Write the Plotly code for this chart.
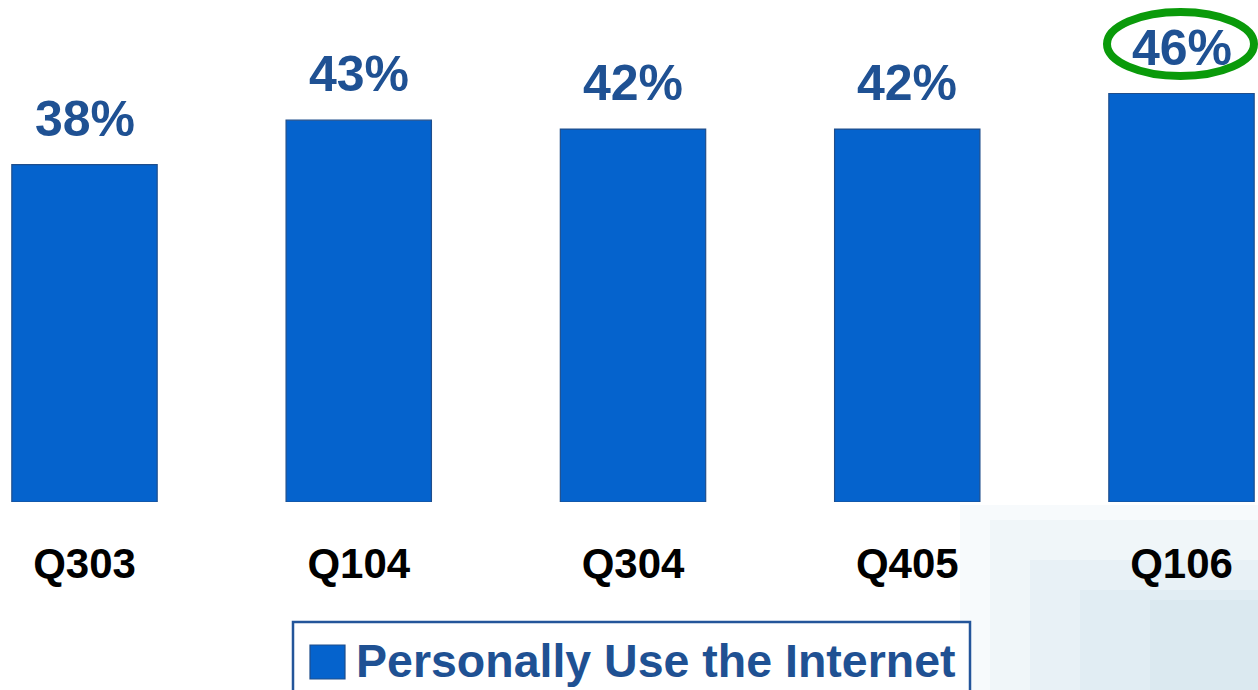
import plotly.graph_objects as go

# Quarterly survey share: "Personally Use the Internet"
quarters = ["Q303", "Q104", "Q304", "Q405", "Q106"]
share_pct = [38, 43, 42, 42, 46]
series_name = "Personally Use the Internet"

FONT = "Liberation Sans, Arial, sans-serif"
BAR_BLUE = "#0563CD"
BAR_EDGE = "#1F4E8C"
LABEL_BLUE = "#1F5193"

W, H = 1258, 690
PLOT_BOTTOM = 502          # pixel row of the category axis
PX_PER_PCT = 8.88
PX_PER_CAT = 274.25
FIRST_CENTER = 84.5


def px(xp):
    """horizontal pixel -> paper fraction (plot spans full width)"""
    return xp / W


def py(yp):
    """vertical pixel (from top) -> paper fraction of the plot area"""
    return (PLOT_BOTTOM - yp) / PLOT_BOTTOM


x_idx = list(range(len(quarters)))

fig = go.Figure()
fig.add_trace(go.Bar(
    x=x_idx,
    y=share_pct,
    width=[0.53] * len(quarters),
    marker=dict(color=BAR_BLUE, line=dict(color=BAR_EDGE, width=1.2)),
    name=series_name,
    showlegend=False,
    hoverinfo="skip",
))

# value labels above each bar
annotations = []
for i, v in zip(x_idx, share_pct):
    annotations.append(dict(
        x=i, y=v, xref="x", yref="y",
        text=f"<b>{v}%</b>", showarrow=False,
        yanchor="bottom", yshift=16,
        font=dict(family=FONT, size=50, color=LABEL_BLUE),
    ))

# legend drawn as a boxed swatch + label
annotations.append(dict(
    x=px(354), y=py(661), xref="paper", yref="paper",
    xanchor="left", yanchor="middle", showarrow=False,
    text=f"<b>{series_name}</b>",
    font=dict(family=FONT, size=46.5, color=LABEL_BLUE),
))

shapes = []
# pale background wash at the lower right, built up in soft layers
wash = [
    (960, 505, "rgba(232,241,245,0.35)"),
    (990, 520, "rgba(226,238,243,0.35)"),
    (1030, 560, "rgba(218,233,240,0.35)"),
    (1080, 590, "rgba(212,230,238,0.35)"),
    (1150, 600, "rgba(206,226,236,0.3)"),
]
for left, top, col in wash:
    shapes.append(dict(type="rect", xref="paper", yref="paper", layer="below",
                       x0=px(left), x1=1.0, y0=py(H + 5), y1=py(top),
                       fillcolor=col, line=dict(width=0)))

shapes += [
    # legend frame
    dict(type="rect", xref="paper", yref="paper",
         x0=px(293), x1=px(970), y0=py(H + 10), y1=py(622),
         fillcolor="white", line=dict(color="#23559A", width=2.5)),
    # legend swatch
    dict(type="rect", xref="paper", yref="paper",
         x0=px(310), x1=px(345), y0=py(679), y1=py(645),
         fillcolor=BAR_BLUE, line=dict(color=BAR_EDGE, width=1.2)),
    # highlight ring around the latest quarter's label
    dict(type="circle", xref="paper", yref="paper",
         x0=px(1107), x1=px(1254), y0=py(76), y1=py(12),
         line=dict(color="#0A9A0A", width=8)),
]

x0 = -FIRST_CENTER / PX_PER_CAT
x1 = x0 + W / PX_PER_CAT

fig.update_layout(
    width=W, height=H,
    margin=dict(l=0, r=0, t=0, b=H - PLOT_BOTTOM, pad=0),
    paper_bgcolor="white", plot_bgcolor="rgba(0,0,0,0)",
    xaxis=dict(
        range=[x0, x1], tickmode="array", tickvals=x_idx,
        ticktext=[f"<b>{q}</b>" for q in quarters],
        tickfont=dict(family=FONT, size=42, color="black"),
        showgrid=False, zeroline=False, showline=False, ticks="",
        ticklabelstandoff=33,
    ),
    yaxis=dict(
        range=[0, PLOT_BOTTOM / PX_PER_PCT], visible=False,
        showgrid=False, zeroline=False,
    ),
    annotations=annotations,
    shapes=shapes,
    showlegend=False,
)

fig.write_html("out.html")
